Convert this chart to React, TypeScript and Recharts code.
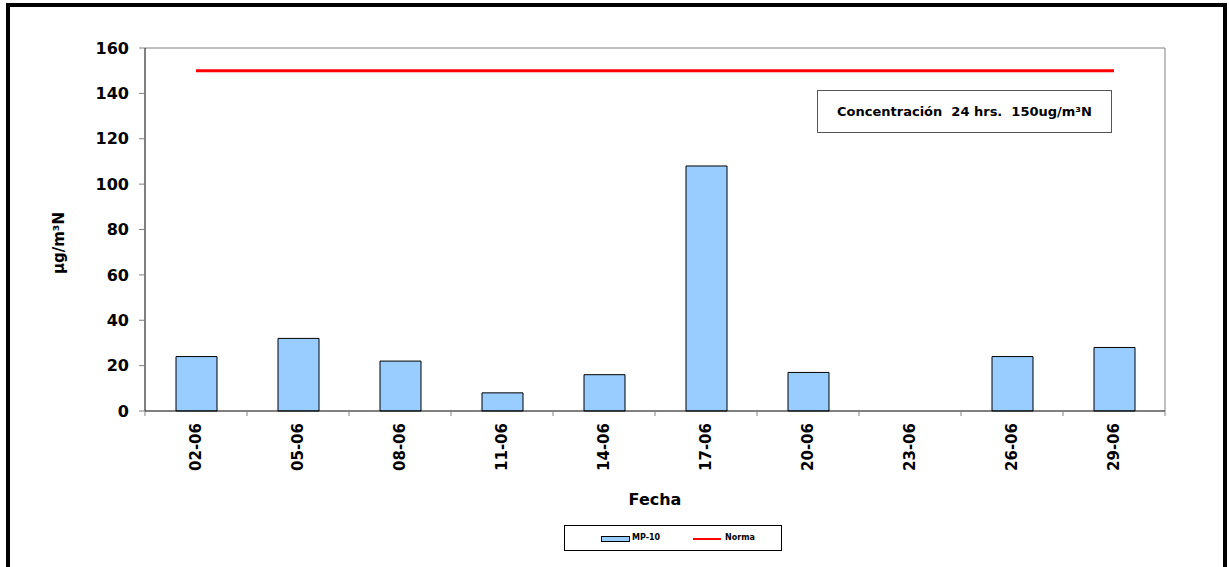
import React from "react";
import {Bar, CartesianGrid, ComposedChart, Legend, Line, XAxis, YAxis} from "recharts";

const fechas = ["02-06", "05-06", "08-06", "11-06", "14-06", "17-06", "20-06", "23-06", "26-06", "29-06"];
const mp10 = [24, 32, 22, 8, 16, 108, 17, null, 24, 28];
const norma = [150, 150, 150, 150, 150, 150, 150, 150, 150, 150];
const yTicks = [0, 20, 40, 60, 80, 100, 120, 140, 160];

const data = fechas.map((f, i) => ({fecha: f, mp10: mp10[i], norma: norma[i]}));

const FONT = "'DejaVu Sans', Verdana, sans-serif";

const FechaTick = (props: any) => {
    const {x, y, payload, index, width} = props;
    const band = (width || 1020) / fechas.length;
    return (
        <g>
            <line x1={x - band / 2} x2={x - band / 2} y1={y} y2={y + 5} stroke="#808080"/>
            {index === fechas.length - 1 &&
                <line x1={x + band / 2} x2={x + band / 2} y1={y} y2={y + 5} stroke="#808080"/>}
            <text x={x} y={y + 12} transform={`rotate(-90, ${x}, ${y + 12})`} textAnchor="end" dy="0.36em"
                  fontFamily={FONT} fontWeight="bold" fontSize={15} fill="#000">
                {payload.value}
            </text>
        </g>
    );
};

const LegendBox = () => (
    <div style={{position: "relative", width: 218, height: 26, border: "1px solid #000", boxSizing: "border-box",
        background: "#fff", fontFamily: FONT, fontWeight: "bold", fontSize: 8, color: "#000"}}>
        <div style={{position: "absolute", left: 36, top: 10, width: 27, height: 4, background: "#99CCFF", border: "1px solid #000"}}/>
        <span style={{position: "absolute", left: 67, top: 7}}>MP-10</span>
        <div style={{position: "absolute", left: 128, top: 12, width: 28, height: 2, background: "#FF0000"}}/>
        <span style={{position: "absolute", left: 160, top: 7}}>Norma</span>
    </div>
);

export default function App() {
    return (
        <div style={{position: "fixed", left: 0, top: 0, width: 1229, height: 567, background: "#fff", overflow: "hidden"}}>
            <div style={{position: "absolute", left: 6, top: 3, width: 1221, height: 620, border: "4px solid #000", boxSizing: "border-box"}}/>
            <ComposedChart width={1229} height={567} data={data}
                           margin={{top: 48, right: 64, left: 85, bottom: 76}}
                           style={{position: "absolute", left: 0, top: 0}}>
                {/* plot frame: top and right edges only */}
                <CartesianGrid stroke="#808080" strokeDasharray=""
                               horizontalCoordinatesGenerator={({offset}: any) => [offset.top]}
                               verticalCoordinatesGenerator={({offset}: any) => [offset.left + offset.width]}/>
                <XAxis dataKey="fecha" interval={0} height={80} tickSize={0} tickMargin={0}
                       stroke="#000" tick={<FechaTick/>}
                       label={{
                           content: (p: any) => (
                               <text x={p.viewBox.x + p.viewBox.width / 2} y={505} textAnchor="middle"
                                     fontFamily={FONT} fontWeight="bold" fontSize={16} fill="#000">Fecha</text>
                           )
                       }}/>
                <YAxis domain={[0, 160]} ticks={yTicks} interval={0} width={60} tickSize={6} tickMargin={10}
                       stroke="#000" tickLine={{stroke: "#808080"}}
                       tick={{fontFamily: FONT, fontWeight: "bold", fontSize: 16, fill: "#000"}}
                       label={{
                           content: () => (
                               <text x={64} y={243} transform="rotate(-90, 64, 243)" textAnchor="middle"
                                     fontFamily={FONT} fontWeight="bold" fontSize={15} fill="#000">µg/m³N</text>
                           )
                       }}/>
                <Legend layout="vertical" align="center" verticalAlign="middle" content={<LegendBox/>}
                        wrapperStyle={{left: 564, top: 525, width: 218, height: 26}}/>
                <Bar dataKey="mp10" name="MP-10" fill="#99CCFF" stroke="#000" strokeWidth={1} barSize={41}
                     isAnimationActive={false}/>
                <Line dataKey="norma" name="Norma" stroke="#FF0000" strokeWidth={3} dot={false}
                      isAnimationActive={false}/>
            </ComposedChart>
            <div style={{position: "absolute", left: 817, top: 90, width: 295, height: 43, border: "1px solid #555",
                boxSizing: "border-box", background: "#fff", fontFamily: FONT, fontWeight: "bold", fontSize: 13,
                display: "flex", alignItems: "center", justifyContent: "center", whiteSpace: "pre"}}>
                Concentración  24 hrs.  150ug/m³N
            </div>
        </div>
    );
}
